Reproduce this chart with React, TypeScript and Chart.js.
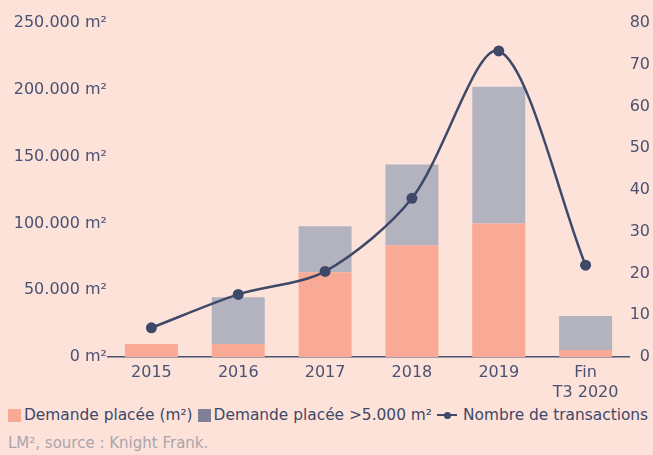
import React, { useEffect, useRef } from "react";
import { Chart, registerables } from "chart.js";

Chart.register(...registerables);

const categories: (string | string[])[] = ["2015", "2016", "2017", "2018", "2019", ["Fin", "T3 2020"]];
const demandeTotale = [9700, 9700, 63500, 83600, 100000, 5200];
const demandeGrande = [0, 35100, 34300, 60400, 102200, 25400];
const transactions = [7, 15, 20.5, 38, 73.3, 22];
const leftTicks = [0, 50000, 100000, 150000, 200000, 250000];
const rightTicks = [0, 10, 20, 30, 40, 50, 60, 70, 80];
const legendLabels = ["Demande placée (m²)", "Demande placée >5.000 m²", "Nombre de transactions"];
const sourceText = "LM², source : Knight Frank.";

const BG = "#fde2d9";
const SALMON = "#f8aa97";
const GREY = "#b3b2bf";
const GREY_LEGEND = "#807f98";
const NAVY = "#3e4868";
const TEXT = "#4a5272";
const FONT = "'DejaVu Sans', 'Open Sans', sans-serif";

function fmt(v: number): string {
  return String(Math.round(v)).replace(/\B(?=(\d{3})+(?!\d))/g, ".") + " m²";
}

export default function App() {
  const ref = useRef<HTMLCanvasElement>(null);
  useEffect(() => {
    document.body.style.margin = "0";
    document.body.style.background = BG;
    const chart = new Chart(ref.current!, {
      type: "bar",
      data: {
        labels: categories,
        datasets: [
          {
            type: "line",
            label: legendLabels[2],
            data: transactions,
            yAxisID: "y1",
            borderColor: NAVY,
            backgroundColor: NAVY,
            borderWidth: 2.5,
            pointRadius: 5.5,
            pointBackgroundColor: NAVY,
            pointBorderWidth: 0,
            tension: 0.3,
            order: 0,
          } as any,
          {
            label: legendLabels[0],
            data: demandeTotale,
            backgroundColor: SALMON,
            yAxisID: "y",
            stack: "s",
            barPercentage: 0.61,
            categoryPercentage: 1,
            order: 1,
          },
          {
            label: legendLabels[1],
            data: demandeGrande,
            backgroundColor: GREY,
            yAxisID: "y",
            stack: "s",
            barPercentage: 0.61,
            categoryPercentage: 1,
            order: 1,
          },
        ],
      },
      options: {
        animation: false,
        responsive: false,
        layout: { padding: { top: 23, left: 8, right: 3, bottom: 0 } },
        scales: {
          x: {
            stacked: true,
            grid: { display: false, drawTicks: false },
            border: { display: true, color: TEXT, width: 1.5 },
            afterFit: (s: any) => {
              s.height = 47;
            },
            ticks: {
              color: TEXT,
              font: { family: FONT, size: 16, lineHeight: 1.25 },
              padding: 6,
              maxRotation: 0,
            },
          },
          y: {
            stacked: true,
            position: "left",
            min: 0,
            max: 250000,
            grid: { display: false, drawTicks: false },
            border: { display: false },
            afterBuildTicks: (s: any) => {
              s.ticks = leftTicks.map((v) => ({ value: v }));
            },
            afterFit: (s: any) => {
              s.width = 100;
            },
            ticks: {
              color: TEXT,
              font: { family: FONT, size: 16 },
              padding: 1,
              callback: (v: any) => fmt(Number(v)),
            },
          },
          y1: {
            position: "right",
            min: 0,
            max: 80,
            grid: { display: false, drawTicks: false },
            border: { display: false },
            afterBuildTicks: (s: any) => {
              s.ticks = rightTicks.map((v) => ({ value: v }));
            },
            afterFit: (s: any) => {
              s.width = 21;
            },
            ticks: {
              color: TEXT,
              font: { family: FONT, size: 16 },
              padding: 0,
              crossAlign: "far",
            },
          },
        },
        plugins: {
          tooltip: { enabled: false },
          legend: { display: false },
        },
      },
    });
    return () => chart.destroy();
  }, []);

  const sq = (color: string) => (
    <span style={{ display: "inline-block", width: 13, height: 13, background: color, marginRight: 3 }} />
  );

  return (
    <div style={{ width: 653, height: 455, background: BG, fontFamily: FONT }}>
      <canvas ref={ref} width={653} height={404} style={{ display: "block" }} />
      <div
        style={{
          height: 22,
          display: "flex",
          alignItems: "center",
          paddingLeft: 8,
          whiteSpace: "nowrap",
          fontSize: 15.4,
          color: NAVY,
        }}
      >
        {sq(SALMON)}
        <span style={{ marginRight: 5 }}>{legendLabels[0]}</span>
        {sq(GREY_LEGEND)}
        <span style={{ marginRight: 5 }}>{legendLabels[1]}</span>
        <span style={{ position: "relative", display: "inline-block", width: 20, height: 13, marginRight: 6 }}>
          <span style={{ position: "absolute", left: 0, top: 5.5, width: 20, height: 2, background: NAVY }} />
          <span
            style={{ position: "absolute", left: 6.5, top: 3, width: 7, height: 7, borderRadius: "50%", background: NAVY }}
          />
        </span>
        <span>{legendLabels[2]}</span>
      </div>
      <div
        style={{
          height: 29,
          lineHeight: "26px",
          paddingLeft: 8,
          paddingTop: 4,
          boxSizing: "border-box",
          fontSize: 15,
          color: "#a9a5ad",
          whiteSpace: "nowrap",
        }}
      >
        {sourceText}
      </div>
    </div>
  );
}
